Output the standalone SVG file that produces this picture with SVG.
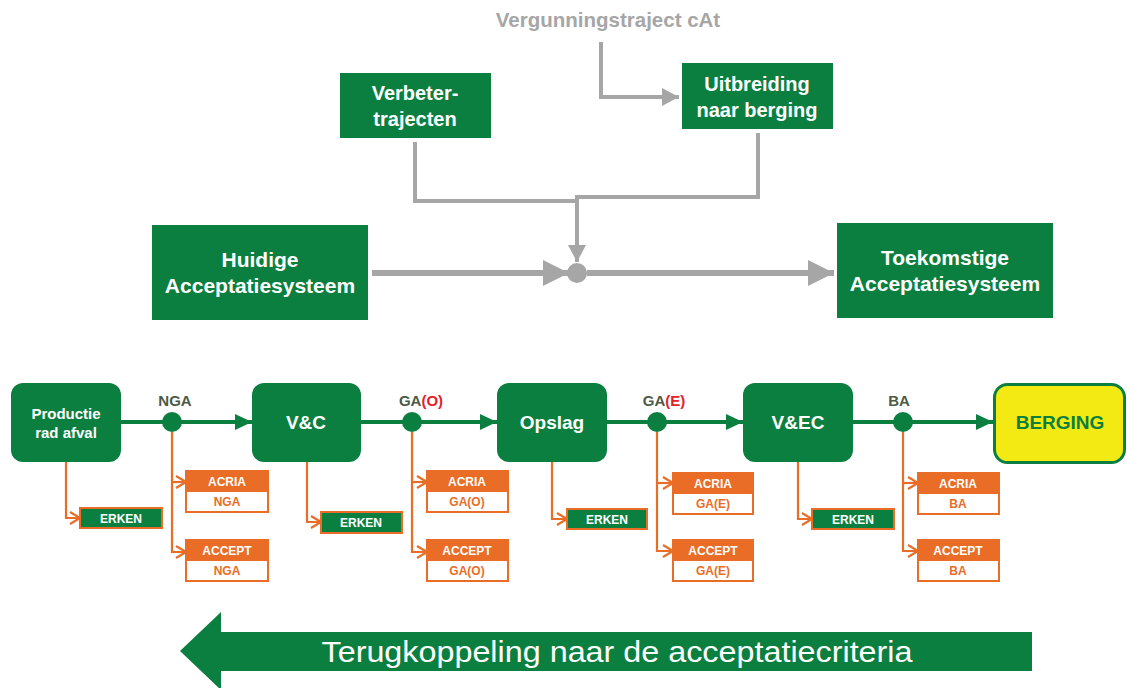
<svg xmlns="http://www.w3.org/2000/svg" width="1127" height="688" viewBox="0 0 1127 688">
<style>
.gbox{fill:#0b7f3f}
.wt{fill:#fff;font-family:"Liberation Sans",Arial,sans-serif;font-weight:bold;text-anchor:middle}
.gl{stroke:#a6a6a6;fill:none;stroke-width:4}
.gl2{stroke:#a6a6a6;fill:none;stroke-width:6}
.grl{stroke:#0b7f3f;stroke-width:4;fill:none}
.ol{stroke:#e96d26;stroke-width:2.2;fill:none}
.lbl{fill:#4b5a44;font-family:"Liberation Sans",Arial,sans-serif;font-weight:bold;font-size:15px;text-anchor:middle}
.red{fill:#e4202a}
.oh{fill:#e96d26;stroke:#e96d26;stroke-width:2}
.ob{fill:#fff;stroke:#e96d26;stroke-width:2}
.ot{fill:#e96d26;font-family:"Liberation Sans",Arial,sans-serif;font-weight:bold;font-size:12px;text-anchor:middle}
.st{fill:#fff;font-family:"Liberation Sans",Arial,sans-serif;font-weight:bold;font-size:12px;text-anchor:middle}
.erk{fill:#0b7f3f;stroke:#e96d26;stroke-width:2}
</style>
<defs>
<marker id="ga" markerUnits="userSpaceOnUse" markerWidth="26" markerHeight="26" refX="26" refY="13" orient="auto" overflow="visible"><path d="M0,0 L26,13 L0,26 z" fill="#a6a6a6"/></marker>
<marker id="gs" markerUnits="userSpaceOnUse" markerWidth="17" markerHeight="18" refX="17" refY="9" orient="auto" overflow="visible"><path d="M0,0 L17,9 L0,18 z" fill="#a6a6a6"/></marker>
<marker id="grn" markerUnits="userSpaceOnUse" markerWidth="17" markerHeight="16" refX="17" refY="8" orient="auto" overflow="visible"><path d="M0,0 L17,8 L0,16 z" fill="#0b7f3f"/></marker>
<marker id="oc" markerUnits="userSpaceOnUse" markerWidth="12" markerHeight="14" refX="11" refY="6" orient="auto" overflow="visible"><path d="M1,0 L11,6 L1,12" fill="none" stroke="#e96d26" stroke-width="2.2"/></marker>
</defs>

<g id="connectors">
  <path class="gl" d="M601,42 V97 H679" marker-end="url(#gs)"/>
  <path class="gl" d="M415,142 V201 H577"/>
  <path class="gl" d="M758,133 V197 H577 V262" marker-end="url(#gs)"/>
  <path class="gl2" d="M372,273 H569" marker-end="url(#ga)"/>
  <path class="gl2" d="M587,273 H834" marker-end="url(#ga)"/>
  <circle cx="577" cy="273" r="10" fill="#a6a6a6"/>

  <path class="grl" d="M121,422 H252" marker-end="url(#grn)"/>
  <path class="grl" d="M361,422 H497" marker-end="url(#grn)"/>
  <path class="grl" d="M607,422 H743" marker-end="url(#grn)"/>
  <path class="grl" d="M853,422 H993" marker-end="url(#grn)"/>
  <circle cx="172" cy="422" r="10" fill="#0b7f3f"/>
  <circle cx="412" cy="422" r="10" fill="#0b7f3f"/>
  <circle cx="657" cy="422" r="10" fill="#0b7f3f"/>
  <circle cx="903" cy="422" r="10" fill="#0b7f3f"/>

  <path class="ol" d="M66,462 V518 H80" marker-end="url(#oc)"/>
  <path class="ol" d="M307,462 V522 H321" marker-end="url(#oc)"/>
  <path class="ol" d="M552,462 V519 H567" marker-end="url(#oc)"/>
  <path class="ol" d="M798,462 V519 H812" marker-end="url(#oc)"/>

  <path class="ol" d="M172,432 V552 H186" marker-end="url(#oc)"/>
  <path class="ol" d="M172,482 H186" marker-end="url(#oc)"/>
  <path class="ol" d="M412,432 V552 H427" marker-end="url(#oc)"/>
  <path class="ol" d="M412,482 H427" marker-end="url(#oc)"/>
  <path class="ol" d="M657,432 V551 H673" marker-end="url(#oc)"/>
  <path class="ol" d="M657,483 H673" marker-end="url(#oc)"/>
  <path class="ol" d="M903,432 V551 H918" marker-end="url(#oc)"/>
  <path class="ol" d="M903,483 H918" marker-end="url(#oc)"/>
</g>

<g id="vergunning"><text x="608" y="27" font-family="Liberation Sans, Arial, sans-serif" font-weight="bold" font-size="20.5" fill="#a6a6a6" text-anchor="middle">Vergunningstraject cAt</text></g>
<g id="verbeter"><rect class="gbox" x="340" y="73" width="151" height="65"/><text class="wt" font-size="20" x="415" y="100">Verbeter-</text><text class="wt" font-size="20" x="415" y="126">trajecten</text></g>
<g id="uitbreiding"><rect class="gbox" x="682" y="63" width="151" height="66"/><text class="wt" font-size="20" x="757" y="91">Uitbreiding</text><text class="wt" font-size="20" x="757" y="117">naar berging</text></g>
<g id="huidige"><rect class="gbox" x="152" y="225" width="216" height="95"/><text class="wt" font-size="21" x="260" y="267">Huidige</text><text class="wt" font-size="21" x="260" y="293">Acceptatiesysteem</text></g>
<g id="toekomstige"><rect class="gbox" x="837" y="223" width="216" height="95"/><text class="wt" font-size="21" x="945" y="265">Toekomstige</text><text class="wt" font-size="21" x="945" y="291">Acceptatiesysteem</text></g>

<g id="productie"><rect class="gbox" x="11" y="383" width="110" height="79" rx="12"/><text class="wt" font-size="15" x="66" y="419">Productie</text><text class="wt" font-size="15" x="66" y="438">rad afval</text></g>
<g id="vc"><rect class="gbox" x="252" y="383" width="109" height="79" rx="12"/><text class="wt" font-size="19" x="306" y="429">V&amp;C</text></g>
<g id="opslag"><rect class="gbox" x="497" y="383" width="110" height="79" rx="12"/><text class="wt" font-size="19" x="552" y="429">Opslag</text></g>
<g id="vec"><rect class="gbox" x="743" y="383" width="110" height="79" rx="12"/><text class="wt" font-size="19" x="798" y="429">V&amp;EC</text></g>
<g id="berging"><rect x="994.5" y="384.5" width="130" height="78" rx="13" fill="#f2ea12" stroke="#0b7f3f" stroke-width="3"/><text font-family="Liberation Sans, Arial, sans-serif" font-weight="bold" font-size="19" fill="#0b7f3f" text-anchor="middle" x="1060" y="429">BERGING</text></g>

<g id="lbl-nga"><text class="lbl" x="175" y="406">NGA</text></g>
<g id="lbl-gao"><text class="lbl" x="421" y="406">GA<tspan class="red">(O)</tspan></text></g>
<g id="lbl-gae"><text class="lbl" x="664" y="406">GA<tspan class="red">(E)</tspan></text></g>
<g id="lbl-ba"><text class="lbl" x="899" y="406">BA</text></g>

<g id="erken1"><rect class="erk" x="80" y="508" width="82" height="20"/><text class="st" x="121" y="523">ERKEN</text></g>
<g id="erken2"><rect class="erk" x="321" y="512" width="81" height="21"/><text class="st" x="361" y="527">ERKEN</text></g>
<g id="erken3"><rect class="erk" x="567" y="509" width="80" height="20"/><text class="st" x="607" y="524">ERKEN</text></g>
<g id="erken4"><rect class="erk" x="812" y="509" width="82" height="20"/><text class="st" x="853" y="524">ERKEN</text></g>

<g id="acria-nga"><rect class="ob" x="186" y="471" width="82" height="41"/><rect class="oh" x="186" y="471" width="82" height="20"/><text class="st" x="227" y="486">ACRIA</text><text class="ot" x="227" y="506">NGA</text></g>
<g id="accept-nga"><rect class="ob" x="186" y="540" width="82" height="41"/><rect class="oh" x="186" y="540" width="82" height="20"/><text class="st" x="227" y="555">ACCEPT</text><text class="ot" x="227" y="575">NGA</text></g>
<g id="acria-gao"><rect class="ob" x="427" y="471" width="81" height="41"/><rect class="oh" x="427" y="471" width="81" height="20"/><text class="st" x="467" y="486">ACRIA</text><text class="ot" x="467" y="506">GA(O)</text></g>
<g id="accept-gao"><rect class="ob" x="427" y="540" width="81" height="41"/><rect class="oh" x="427" y="540" width="81" height="20"/><text class="st" x="467" y="555">ACCEPT</text><text class="ot" x="467" y="575">GA(O)</text></g>
<g id="acria-gae"><rect class="ob" x="673" y="473" width="80" height="41"/><rect class="oh" x="673" y="473" width="80" height="20"/><text class="st" x="713" y="488">ACRIA</text><text class="ot" x="713" y="508">GA(E)</text></g>
<g id="accept-gae"><rect class="ob" x="673" y="540" width="80" height="41"/><rect class="oh" x="673" y="540" width="80" height="20"/><text class="st" x="713" y="555">ACCEPT</text><text class="ot" x="713" y="575">GA(E)</text></g>
<g id="acria-ba"><rect class="ob" x="918" y="473" width="81" height="41"/><rect class="oh" x="918" y="473" width="81" height="20"/><text class="st" x="958" y="488">ACRIA</text><text class="ot" x="958" y="508">BA</text></g>
<g id="accept-ba"><rect class="ob" x="918" y="540" width="81" height="41"/><rect class="oh" x="918" y="540" width="81" height="20"/><text class="st" x="958" y="555">ACCEPT</text><text class="ot" x="958" y="575">BA</text></g>

<g id="feedback"><polygon points="180,651 221,612 221,632 1032,632 1032,671 221,671 221,690" fill="#0b7f3f"/><text x="617" y="662" font-family="Liberation Sans, Arial, sans-serif" font-size="29" fill="#fff" text-anchor="middle" textLength="591" lengthAdjust="spacingAndGlyphs">Terugkoppeling naar de acceptatiecriteria</text></g>
</svg>
